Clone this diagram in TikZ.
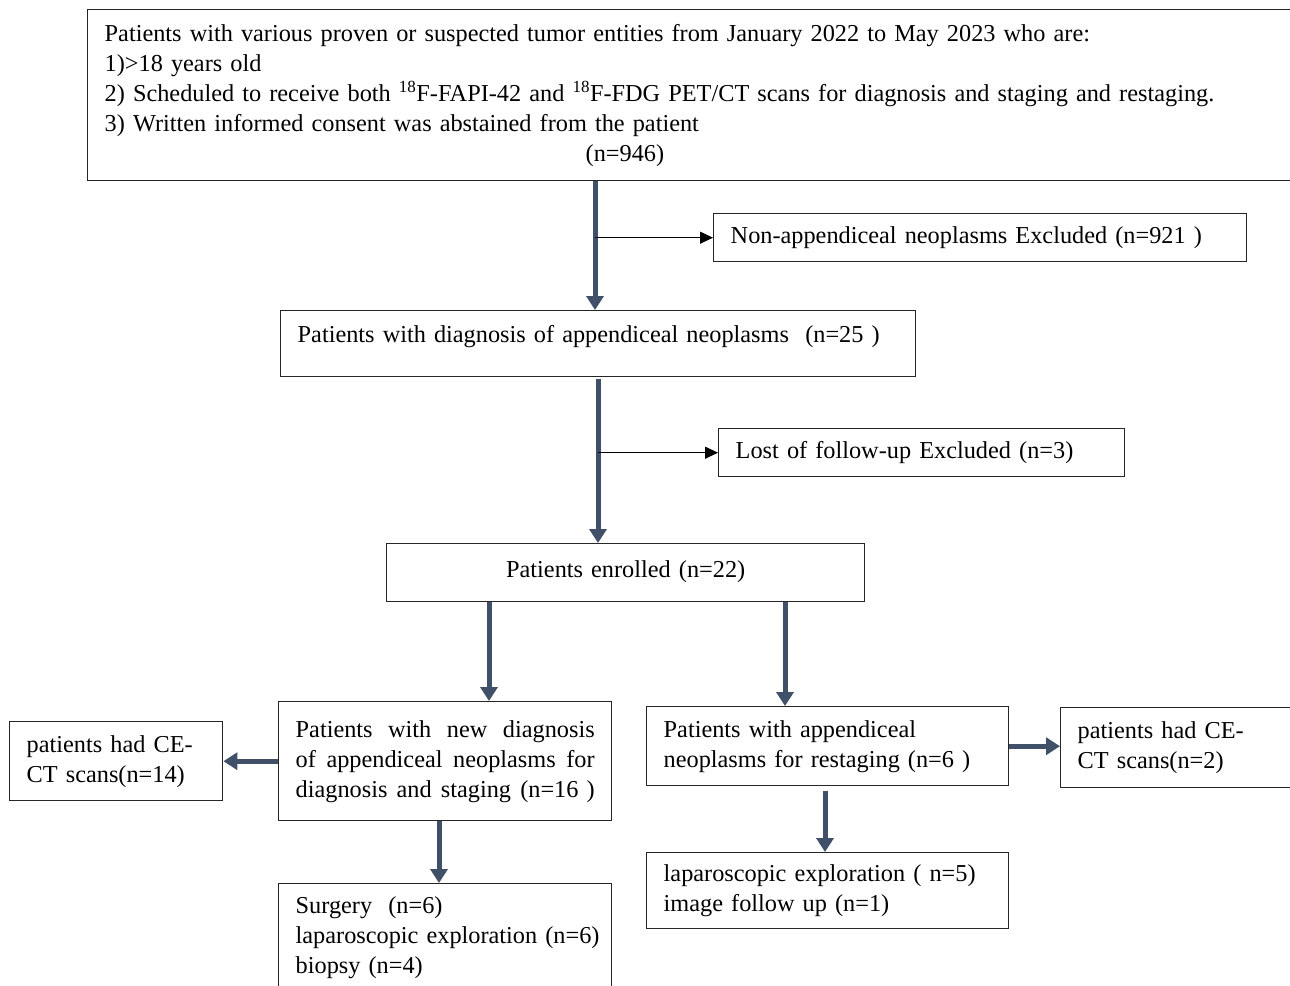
\documentclass[tikz,border=0pt]{standalone}
\usepackage{fontspec}
\setmainfont{Liberation Serif}
\usetikzlibrary{arrows.meta,calc}
\definecolor{arr}{HTML}{3F5068}
\definecolor{boxline}{HTML}{262626}
\begin{document}
\begin{tikzpicture}[x=1pt,y=-1pt,
  box/.style={draw=boxline,line width=1.4pt,rectangle,anchor=north west,inner xsep=17pt,inner ysep=0pt,
    font=\fontsize{24.3}{30}\selectfont,align=left},
  thickarr/.style={draw=arr,line width=5pt,-{Triangle[width=17pt,length=14pt]}},
  thinarr/.style={draw=black,line width=1.2pt,-{Triangle[width=12pt,length=13pt]}}]
\useasboundingbox (0,0) rectangle (1290,985);
\node[box,text width=1174pt,minimum height=171pt] (top) at (87,9)
 {\mbox{Patients with various proven or suspected tumor entities from January 2022 to May 2023 who are:}\\
  1)\textgreater18 years old\\
  \mbox{2) Scheduled to receive both \textsuperscript{18}F-FAPI-42 and \textsuperscript{18}F-FDG PET/CT scans for diagnosis and staging and restaging.}\\
  3) Written informed consent was abstained from the patient\\
  \hspace*{481pt}(n=946)};
\node[box,text width=499pt,minimum height=48pt] (ex1) at (713,213)
 {\mbox{Non-appendiceal neoplasms Excluded (n=921 )}};
\node[box,text width=601pt,minimum height=66pt] (n25) at (280,310)
 {\raisebox{20pt}{Patients with diagnosis of appendiceal neoplasms\ \ (n=25 )}};
\node[box,text width=372pt,minimum height=48pt] (ex2) at (718,428)
 {\mbox{Lost of follow-up Excluded (n=3)}};
\node[box,text width=444pt,minimum height=58pt,align=center] (enr) at (386,543)
 {\raisebox{8pt}{Patients enrolled (n=22)}};
\node[box,text width=299pt,minimum height=119pt] (nd) at (278,701)
 {\makebox[299pt][l]{Patients\hfill with\hfill new\hfill diagnosis}\\
  \makebox[299pt][l]{of\hfill appendiceal\hfill neoplasms\hfill for}\\
  \makebox[299pt][l]{diagnosis\hfill and\hfill staging\hfill (n=16\ )}};
\node[box,text width=179pt,minimum height=79pt] (ce1) at (9,721)
 {\mbox{patients had CE-}\\\mbox{CT scans(n=14)}};
\node[box,text width=299pt,minimum height=107pt] (surg) at (278,883)
 {Surgery\ \ (n=6)\\\mbox{laparoscopic exploration (n=6)}\\biopsy (n=4)};
\node[box,text width=328pt,minimum height=79pt] (rs) at (646,706)
 {\mbox{Patients with appendiceal}\\\mbox{neoplasms for restaging (n=6 )}};
\node[box,text width=201pt,minimum height=80pt] (ce2) at (1060,707)
 {\mbox{patients had CE-}\\\mbox{CT scans(n=2)}};
\node[box,text width=328pt,minimum height=76pt] (lap) at (646,852)
 {\mbox{laparoscopic exploration ( n=5)}\\\mbox{image follow up (n=1)}};
% connectors
\coordinate (x1) at (595,0);
\coordinate (x2) at (598,0);
\coordinate (e1) at (489,0);
\coordinate (e2) at (785,0);
\coordinate (x3) at (439,0);
\coordinate (x4) at (825,0);
\draw[thickarr] (top.south -| x1) -- (n25.north -| x1);
\draw[thinarr] (ex1.west -| x1) -- (ex1.west);
\draw[thickarr] (n25.south -| x2) ++(0,2) -- (enr.north -| x2);
\draw[thinarr] (ex2.west -| x2) -- (ex2.west);
\draw[thickarr] (enr.south -| e1) -- (nd.north -| e1);
\draw[thickarr] (enr.south -| e2) -- (rs.north -| e2);
\draw[thickarr] (nd.west) -- (nd.west -| ce1.east);
\draw[thickarr] (nd.south -| x3) -- (surg.north -| x3);
\draw[thickarr] (rs.east) -- (rs.east -| ce2.west);
\draw[thickarr] (rs.south -| x4) ++(0,5) -- (lap.north -| x4);
\end{tikzpicture}
\end{document}
